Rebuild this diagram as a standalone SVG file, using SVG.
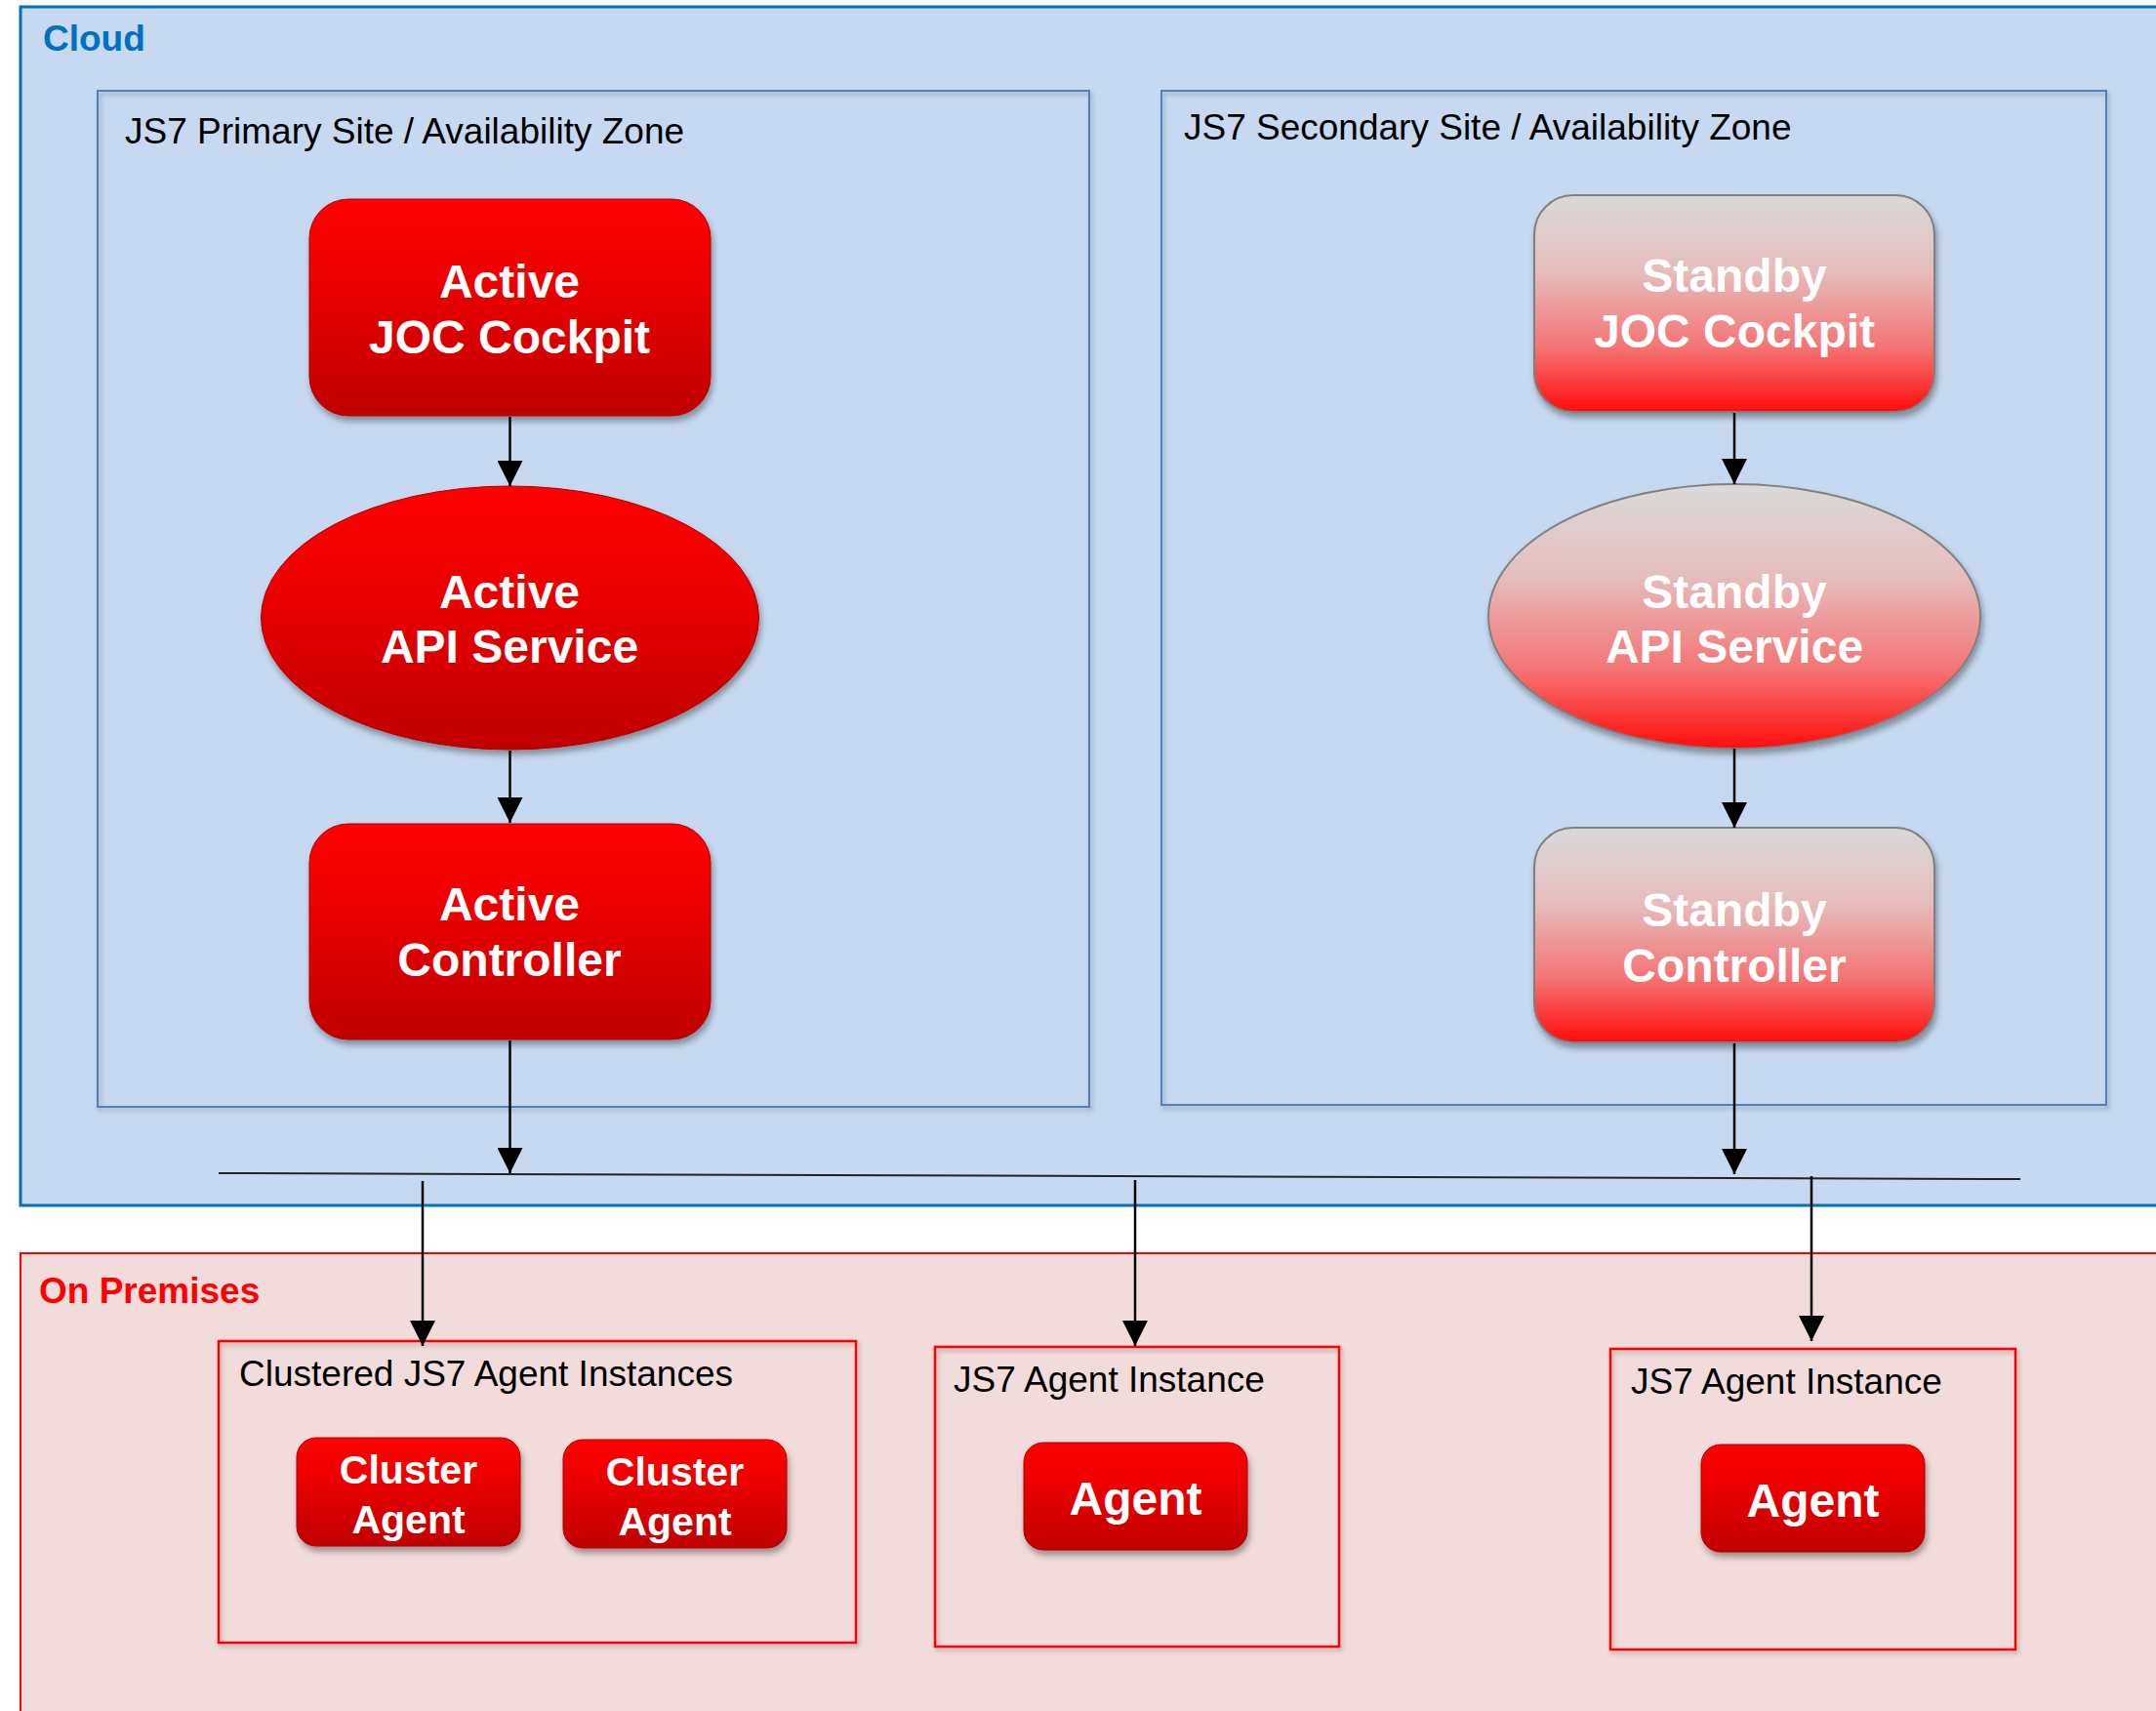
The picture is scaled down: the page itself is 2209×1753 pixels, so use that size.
<svg xmlns="http://www.w3.org/2000/svg" width="2209" height="1753" viewBox="0 0 2209 1753">
<defs>
<linearGradient id="gActive" x1="0" y1="0" x2="0" y2="1">
<stop offset="0" stop-color="#FF0000"/>
<stop offset="0.35" stop-color="#EE0000"/>
<stop offset="1" stop-color="#BF0000"/>
</linearGradient>
<linearGradient id="gStandby" x1="0" y1="0" x2="0" y2="1">
<stop offset="0" stop-color="#D9D9D9"/>
<stop offset="0.35" stop-color="#E6BDBD"/>
<stop offset="0.7" stop-color="#F47474"/>
<stop offset="1" stop-color="#FF0D0D"/>
</linearGradient>
<filter id="sh" x="-10%" y="-10%" width="125%" height="130%">
<feDropShadow dx="2" dy="5" stdDeviation="3" flood-color="#000" flood-opacity="0.35"/>
</filter>
<filter id="shBox" x="-5%" y="-5%" width="110%" height="110%">
<feDropShadow dx="2" dy="3" stdDeviation="2" flood-color="#000" flood-opacity="0.25"/>
</filter>
<marker id="arr" markerUnits="userSpaceOnUse" markerWidth="26" markerHeight="26" refX="26" refY="13" orient="auto">
<path d="M0,0 L26,13 L0,26 z" fill="#000"/>
</marker>
<style>
.zoneCloud{fill:#C6D9F0;stroke:#0070C0;stroke-width:3}
.zonePrem{fill:#F2DCDB;stroke:#FF0000;stroke-width:2}
.site{fill:none;stroke:#4F81BD;stroke-width:2;filter:url(#shBox)}
.inst{fill:none;stroke:#FF0000;stroke-width:2.5;filter:url(#shBox)}
.act{fill:url(#gActive);stroke:#B00000;stroke-width:1;filter:url(#sh)}
.stb{fill:url(#gStandby);stroke:#808080;stroke-width:2;filter:url(#sh)}
.nt{font-family:"Liberation Sans",Arial,sans-serif;font-weight:bold;fill:#FFFFFF;text-anchor:middle}
.lbl{font-family:"Liberation Sans",Arial,sans-serif;font-size:37px;fill:#000}
.conn line{stroke:#000;stroke-width:2.5;marker-end:url(#arr)}
</style>
</defs>

<g id="cloud">
<rect class="zoneCloud" x="21" y="7" width="2200" height="1228"/>
<text x="44" y="52" font-family="Liberation Sans, Arial, sans-serif" font-weight="bold" font-size="37" fill="#0070C0">Cloud</text>
</g>

<g id="premises">
<rect class="zonePrem" x="21" y="1284" width="2200" height="480"/>
<text x="40" y="1335" font-family="Liberation Sans, Arial, sans-serif" font-weight="bold" font-size="37" fill="#FF0000">On Premises</text>
</g>

<g id="primary-site">
<rect class="site" x="100" y="93" width="1016" height="1041"/>
<text class="lbl" x="128" y="147">JS7 Primary Site / Availability Zone</text>
</g>

<g id="secondary-site">
<rect class="site" x="1190" y="93" width="968" height="1039"/>
<text class="lbl" x="1213" y="143">JS7 Secondary Site / Availability Zone</text>
</g>

<g id="clustered-agents">
<rect class="inst" x="224" y="1374" width="653" height="309"/>
<text class="lbl" x="245" y="1420">Clustered JS7 Agent Instances</text>
</g>

<g id="agent-instance-1">
<rect class="inst" x="958" y="1380" width="414" height="307"/>
<text class="lbl" x="977" y="1426">JS7 Agent Instance</text>
</g>

<g id="agent-instance-2">
<rect class="inst" x="1650" y="1382" width="415" height="308"/>
<text class="lbl" x="1671" y="1428">JS7 Agent Instance</text>
</g>

<g id="active-joc">
<rect class="act" x="317" y="204" width="411" height="222" rx="40" ry="40"/>
<text class="nt" font-size="48" x="522" y="305">Active</text>
<text class="nt" font-size="48" x="522" y="362">JOC Cockpit</text>
</g>

<g id="active-api">
<ellipse class="act" cx="522.5" cy="633" rx="255" ry="135"/>
<text class="nt" font-size="48" x="522" y="623">Active</text>
<text class="nt" font-size="48" x="522" y="679">API Service</text>
</g>

<g id="active-controller">
<rect class="act" x="317" y="844" width="411" height="221" rx="40" ry="40"/>
<text class="nt" font-size="48" x="522" y="943">Active</text>
<text class="nt" font-size="48" x="522" y="1000">Controller</text>
</g>

<g id="standby-joc">
<rect class="stb" x="1572" y="200" width="410" height="222" rx="40" ry="40"/>
<text class="nt" font-size="48" x="1777" y="299">Standby</text>
<text class="nt" font-size="48" x="1777" y="356">JOC Cockpit</text>
</g>

<g id="standby-api">
<ellipse class="stb" cx="1777" cy="631.5" rx="252" ry="135.5"/>
<text class="nt" font-size="48" x="1777" y="623">Standby</text>
<text class="nt" font-size="48" x="1777" y="679">API Service</text>
</g>

<g id="standby-controller">
<rect class="stb" x="1572" y="848" width="410" height="220" rx="40" ry="40"/>
<text class="nt" font-size="48" x="1777" y="949">Standby</text>
<text class="nt" font-size="48" x="1777" y="1006">Controller</text>
</g>

<g id="cluster-agent-1">
<rect class="act" x="304" y="1473" width="229" height="111" rx="20" ry="20"/>
<text class="nt" font-size="41" x="418.5" y="1520">Cluster</text>
<text class="nt" font-size="41" x="418.5" y="1571">Agent</text>
</g>

<g id="cluster-agent-2">
<rect class="act" x="577" y="1475" width="229" height="111" rx="20" ry="20"/>
<text class="nt" font-size="41" x="691.5" y="1522">Cluster</text>
<text class="nt" font-size="41" x="691.5" y="1573">Agent</text>
</g>

<g id="agent-1">
<rect class="act" x="1049" y="1478" width="229" height="110" rx="20" ry="20"/>
<text class="nt" font-size="48" x="1163.5" y="1552">Agent</text>
</g>

<g id="agent-2">
<rect class="act" x="1743" y="1480" width="229" height="110" rx="20" ry="20"/>
<text class="nt" font-size="48" x="1857.5" y="1554">Agent</text>
</g>

<g id="connectors" class="conn">
<path d="M224,1202 L2070,1208" stroke="#222" stroke-width="2" fill="none"/>
<line x1="522.5" y1="427" x2="522.5" y2="498"/>
<line x1="522.5" y1="769" x2="522.5" y2="843"/>
<line x1="522.5" y1="1066" x2="522.5" y2="1202"/>
<line x1="1777" y1="423" x2="1777" y2="496"/>
<line x1="1777" y1="767" x2="1777" y2="848"/>
<line x1="1777" y1="1069" x2="1777" y2="1203"/>
<line x1="433" y1="1210" x2="433" y2="1379"/>
<line x1="1163" y1="1209" x2="1163" y2="1379"/>
<line x1="1856" y1="1205" x2="1856" y2="1374"/>
</g>
</svg>
